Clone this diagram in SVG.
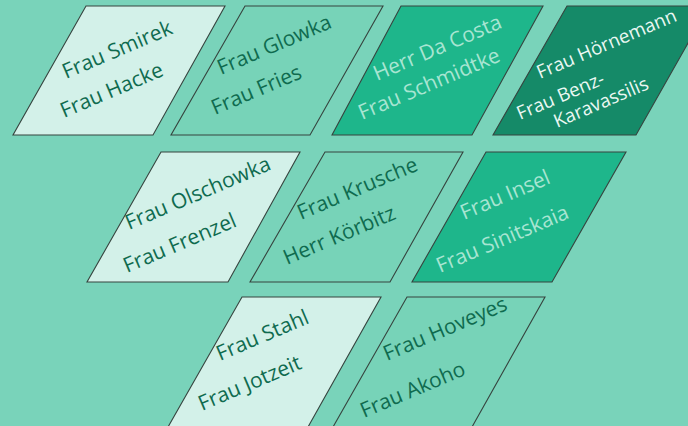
<svg xmlns="http://www.w3.org/2000/svg" width="688" height="426" viewBox="0 0 688 426">
<style>
.sh{stroke:#36443f;stroke-width:1.1;stroke-linejoin:miter}
.light{fill:#D3F1E9}
.mid{fill:#77D3B8}
.green{fill:#1EB68B}
.dark{fill:#158A68}
text{font-family:"Open Sans","Noto Sans","DejaVu Sans",sans-serif;font-size:21px}
.td{fill:#0F6B4F}
.tl{fill:#A8E5D2}
.tw{fill:#EAF8F3;font-size:18.8px}
</style>
<rect width="688" height="426" fill="#79D3BA"/>
<g id="node-smirek-hacke">
<polygon class="sh light" points="86,6 225,6 153,135 13,135"/>
<text class="td" x="66" y="79" transform="rotate(-23 66 79)">Frau Smirek</text>
<text class="td" x="64" y="118" transform="rotate(-23 64 118)">Frau Hacke</text>
</g>
<g id="node-glowka-fries">
<polygon class="sh mid" points="245,6 383,6 310,135 171,135"/>
<text class="td" x="221" y="75" transform="rotate(-23 221 75)">Frau Glowka</text>
<text class="td" x="215" y="115" transform="rotate(-23 215 115)">Frau Fries</text>
</g>
<g id="node-dacosta-schmidtke">
<polygon class="sh green" points="401,6 543,6 472,135 332,135"/>
<text class="tl" x="377" y="81" transform="rotate(-23 377 81)">Herr Da Costa</text>
<text class="tl" x="362" y="120" transform="rotate(-23 362 120)">Frau Schmidtke</text>
</g>
<g id="node-hoernemann-benz">
<polygon class="sh dark" points="567,6 709,6 636,135 493,135"/>
<text class="tw" x="540" y="79" transform="rotate(-23 540 79)">Frau Hörnemann</text>
<text class="tw" x="520" y="120" transform="rotate(-23 520 120)">Frau Benz-</text>
<text class="tw" x="557" y="128" transform="rotate(-23 557 128)">Karavassilis</text>
</g>
<g id="node-olschowka-frenzel">
<polygon class="sh light" points="161,152 300,152 228,282 87,282"/>
<text class="td" x="129" y="230" transform="rotate(-23 129 230)">Frau Olschowka</text>
<text class="td" x="127" y="273" transform="rotate(-23 127 273)">Frau Frenzel</text>
</g>
<g id="node-krusche-koerbitz">
<polygon class="sh mid" points="325,152 463,152 390,282 250,282"/>
<text class="td" x="301" y="220" transform="rotate(-23 301 220)">Frau Krusche</text>
<text class="td" x="287" y="265" transform="rotate(-23 287 265)">Herr Körbitz</text>
</g>
<g id="node-insel-sinitskaia">
<polygon class="sh green" points="486,152 626,152 552,282 412,282"/>
<text class="tl" x="464" y="220" transform="rotate(-23 464 220)">Frau Insel</text>
<text class="tl" x="440" y="273" transform="rotate(-23 440 273)">Frau Sinitskaia</text>
</g>
<g id="node-stahl-jotzeit">
<polygon class="sh light" points="242,297 381,297 308,427 168,427"/>
<text class="td" x="220" y="361" transform="rotate(-23 220 361)">Frau Stahl</text>
<text class="td" x="202" y="411" transform="rotate(-23 202 411)">Frau Jotzeit</text>
</g>
<g id="node-hoveyes-akoho">
<polygon class="sh mid" points="407,297 545,297 472,427 333,427"/>
<text class="td" x="387" y="361" transform="rotate(-23 387 361)">Frau Hoveyes</text>
<text class="td" x="364" y="418" transform="rotate(-23 364 418)">Frau Akoho</text>
</g>
</svg>
